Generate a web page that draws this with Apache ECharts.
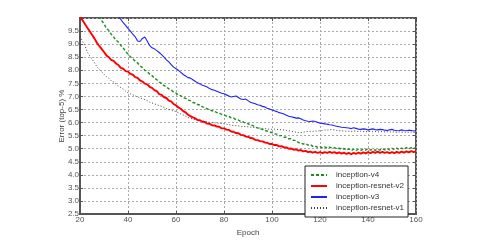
<!DOCTYPE html>
<html><head><meta charset="utf-8">
<script src="https://cdn.jsdelivr.net/npm/echarts@6/dist/echarts.min.js"></script>
<style>html,body{margin:0;padding:0;background:#fff}#c{width:480px;height:242px}</style>
</head><body><div id="c"></div>
<script>
const xTicks = [20, 40, 60, 80, 100, 120, 140, 160];
const yTicks = [2.5, 3.0, 3.5, 4.0, 4.5, 5.0, 5.5, 6.0, 6.5, 7.0, 7.5, 8.0, 8.5, 9.0, 9.5];
const seriesNames = ['inception-v4', 'inception-resnet-v2', 'inception-v3', 'inception-resnet-v1'];

// first epoch of each array; one value per epoch
const v4Start = 26;
const v4 = [10.4,10.2,10.05,9.9,9.78,9.6,9.52,9.38,9.28,9.15,9.08,8.95,8.86,8.72,8.62,8.52,8.44,8.35,8.28,8.17,8.1,8.0,7.96,7.85,7.8,7.7,7.64,7.55,7.5,7.41,7.37,7.29,7.25,7.16,7.13,7.05,7.03,6.95,6.93,6.86,6.84,6.77,6.75,6.69,6.67,6.6,6.59,6.52,6.5,6.45,6.44,6.38,6.37,6.31,6.3,6.25,6.24,6.18,6.17,6.11,6.1,6.04,6.03,5.97,5.96,5.9,5.89,5.82,5.8,5.76,5.74,5.69,5.68,5.63,5.62,5.57,5.56,5.5,5.5,5.44,5.44,5.38,5.38,5.32,5.32,5.24,5.22,5.18,5.2,5.14,5.16,5.09,5.1,5.05,5.08,5.03,5.07,5.02,5.06,5.03,5.04,4.99,5.02,4.97,5.0,4.95,4.99,4.93,4.98,4.93,4.98,4.94,4.99,4.95,5.0,4.95,4.99,4.94,4.99,4.95,5.0,4.96,5.01,4.96,5.01,4.97,5.02,4.97,5.02,4.98,5.04,4.99,5.04,5.0,5.05];

const resV2Start = 20;
const resV2 = [10.05,9.92,9.78,9.64,9.5,9.36,9.22,9.06,8.93,8.82,8.7,8.57,8.5,8.4,8.36,8.26,8.2,8.09,8.06,7.97,7.95,7.86,7.83,7.74,7.71,7.61,7.57,7.49,7.46,7.37,7.33,7.24,7.2,7.09,7.06,6.97,6.94,6.84,6.81,6.71,6.66,6.58,6.53,6.44,6.39,6.3,6.25,6.2,6.16,6.1,6.09,6.03,6.02,5.96,5.95,5.9,5.89,5.85,5.84,5.78,5.78,5.73,5.72,5.66,5.65,5.6,5.59,5.53,5.52,5.47,5.46,5.41,5.4,5.34,5.33,5.29,5.28,5.24,5.23,5.18,5.18,5.14,5.14,5.09,5.1,5.05,5.05,5.0,5.01,4.96,4.98,4.93,4.95,4.9,4.92,4.87,4.89,4.85,4.88,4.84,4.87,4.83,4.87,4.84,4.88,4.84,4.87,4.82,4.86,4.81,4.85,4.8,4.84,4.79,4.84,4.8,4.85,4.81,4.86,4.82,4.87,4.83,4.88,4.84,4.89,4.84,4.88,4.84,4.87,4.83,4.87,4.83,4.88,4.84,4.89,4.85,4.9,4.86,4.91,4.87,4.9];

const v3Start = 35;
const v3 = [10.2,10.05,9.95,9.82,9.72,9.6,9.5,9.38,9.28,9.12,9.1,9.22,9.27,9.12,8.95,8.86,8.82,8.75,8.68,8.6,8.5,8.4,8.32,8.22,8.12,8.06,8.0,7.92,7.84,7.78,7.72,7.7,7.64,7.58,7.52,7.48,7.43,7.4,7.36,7.3,7.26,7.24,7.2,7.16,7.12,7.1,7.06,7.02,6.98,7.0,7.02,6.96,6.9,6.88,6.9,6.84,6.78,6.75,6.72,6.68,6.66,6.62,6.6,6.55,6.52,6.48,6.45,6.42,6.38,6.36,6.33,6.28,6.24,6.22,6.2,6.17,6.18,6.15,6.1,6.07,6.05,6.04,6.06,6.04,6.01,5.98,5.97,5.95,5.94,5.92,5.91,5.88,5.86,5.84,5.82,5.81,5.8,5.79,5.77,5.8,5.78,5.75,5.74,5.76,5.75,5.72,5.74,5.76,5.73,5.72,5.74,5.73,5.71,5.7,5.72,5.74,5.71,5.69,5.7,5.72,5.7,5.69,5.71,5.7,5.68,5.7];

const resV1Start = 20;
const resV1 = [9.3,9.12,8.95,8.7,8.56,8.42,8.3,8.14,8.03,7.95,7.85,7.76,7.7,7.6,7.55,7.47,7.4,7.34,7.28,7.2,7.14,7.1,7.06,7.02,6.98,6.95,6.91,6.88,6.84,6.79,6.75,6.72,6.68,6.65,6.62,6.58,6.54,6.5,6.48,6.45,6.42,6.38,6.33,6.29,6.24,6.2,6.16,6.14,6.12,6.1,6.08,6.07,6.05,6.03,6.01,6.0,5.99,5.98,5.97,5.96,5.95,5.94,5.92,5.9,5.89,5.88,5.87,5.86,5.85,5.85,5.84,5.83,5.82,5.81,5.8,5.79,5.78,5.77,5.76,5.75,5.74,5.75,5.73,5.74,5.72,5.72,5.7,5.69,5.67,5.65,5.63,5.62,5.62,5.63,5.65,5.66,5.67,5.66,5.68,5.67,5.69,5.7,5.72,5.71,5.73,5.73,5.72,5.7,5.69,5.68,5.68,5.67,5.67,5.66,5.68,5.67,5.66,5.67,5.66,5.65,5.66,5.67,5.65,5.66,5.64,5.65,5.66,5.64,5.65,5.64,5.64,5.65,5.63,5.64,5.63,5.64,5.62,5.63,5.64,5.62,5.63];

function pairs(start, arr) { return arr.map((v, i) => [start + i, v]); }

const FONT = 'Liberation Sans';
const gridLine = { show: true, lineStyle: { color: '#aaa', type: [2, 2], width: 1 } };
const chart = echarts.init(document.getElementById('c'));
chart.setOption({
  animation: false,
  textStyle: { fontFamily: FONT },
  grid: { left: 80, right: 64, top: 18, bottom: 21, show: true, borderColor: '#555', borderWidth: 2, backgroundColor: '#fff' },
  legend: {
    orient: 'vertical', left: 305, top: 166,
    data: seriesNames,
    backgroundColor: '#fff', borderColor: '#222', borderWidth: 1, borderRadius: 0,
    padding: [5, 4, 5, 5], itemGap: 3, itemWidth: 16, itemHeight: 10,
    itemStyle: { opacity: 0 },
    textStyle: { fontFamily: FONT, fontSize: 8, color: '#333', padding: [0, 0, 0, 4] }
  },
  xAxis: [{
    type: 'value', min: 20, max: 160, interval: 20,
    name: 'Epoch', nameLocation: 'middle', nameGap: 9,
    nameTextStyle: { fontSize: 8, color: '#444', fontFamily: FONT },
    axisLine: { show: true, lineStyle: { color: '#555', width: 2 } },
    axisTick: { show: true, inside: true, length: 3, lineStyle: { color: '#555' } },
    axisLabel: { fontSize: 8, color: '#555', margin: 2, fontFamily: FONT,
      formatter: v => xTicks.includes(v) ? String(v) : '' },
    splitLine: gridLine
  }, {
    type: 'value', position: 'top', min: 20, max: 160, interval: 20,
    axisLine: { show: false }, axisLabel: { show: false },
    axisTick: { show: true, inside: true, length: 3, lineStyle: { color: '#555' } },
    splitLine: { show: false }
  }],
  yAxis: [{
    type: 'value', min: 2.5, max: 10, interval: 0.5,
    name: 'Error (top-5) %', nameLocation: 'middle', nameGap: 14, nameMoveOverlap: false,
    nameTextStyle: { fontSize: 8, color: '#444', fontFamily: FONT },
    axisLine: { show: true, lineStyle: { color: '#555', width: 2 } },
    axisTick: { show: true, inside: true, length: 3, lineStyle: { color: '#555' } },
    axisLabel: { fontSize: 8, color: '#555', margin: 1, fontFamily: FONT, showMaxLabel: false,
      formatter: v => yTicks.some(t => Math.abs(t - v) < 1e-6) ? v.toFixed(1) : '' },
    splitLine: gridLine
  }, {
    type: 'value', position: 'right', min: 2.5, max: 10, interval: 0.5,
    axisLine: { show: false }, axisLabel: { show: false },
    axisTick: { show: true, inside: true, length: 3, lineStyle: { color: '#555' } },
    splitLine: { show: false }
  }],
  series: [
    { name: seriesNames[0], type: 'line', data: pairs(v4Start, v4), symbol: 'none', clip: true,
      lineStyle: { color: '#1f8a1f', width: 1.4, type: [3, 2] }, itemStyle: { color: '#1f8a1f' }, z: 3 },
    { name: seriesNames[1], type: 'line', data: pairs(resV2Start, resV2), symbol: 'none', clip: true,
      lineStyle: { color: '#ff0000', width: 1.9 }, itemStyle: { color: '#ff0000' }, z: 4 },
    { name: seriesNames[2], type: 'line', data: pairs(v3Start, v3), symbol: 'none', clip: true,
      lineStyle: { color: '#2020ff', width: 1.1 }, itemStyle: { color: '#2020ff' }, z: 2 },
    { name: seriesNames[3], type: 'line', data: pairs(resV1Start, resV1), symbol: 'none', clip: true,
      lineStyle: { color: '#444', width: 1, type: [1, 2] }, itemStyle: { color: '#444' }, z: 1 }
  ]
});
</script></body></html>
